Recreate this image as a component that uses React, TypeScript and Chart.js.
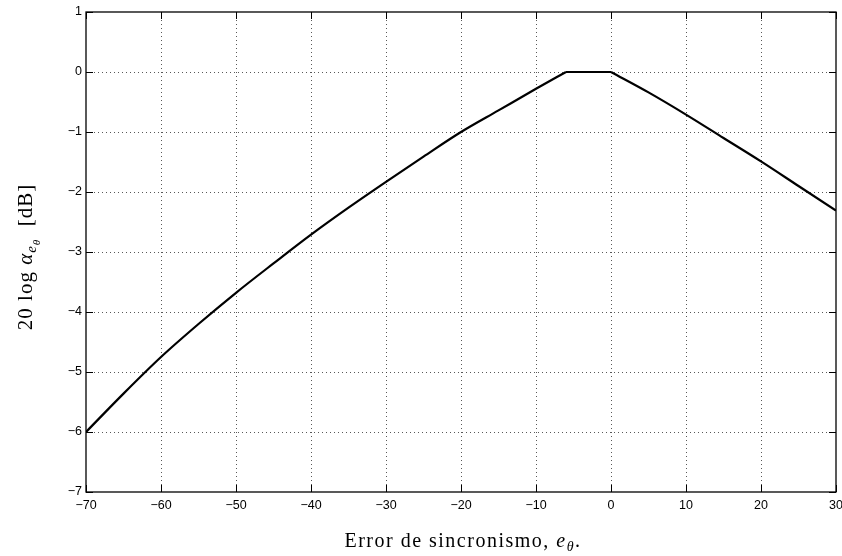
import React, { useEffect, useRef } from "react";
import { Chart, registerables } from "chart.js";

Chart.register(...registerables);

// Synchronisation error (x, degrees) and attenuation in dB (y)
const errorLeft = [-70, -65, -60, -55, -50, -45, -40, -35, -30, -25, -20, -15, -10, -6];
const gainLeft = [-6.0, -5.36, -4.75, -4.2, -3.68, -3.19, -2.71, -2.26, -1.83, -1.41, -1.0, -0.64, -0.28, 0];
const errorPlateau = [-6, 0];
const gainPlateau = [0, 0];
const errorRight = [0, 5, 10, 15, 20, 25, 30];
const gainRight = [0, -0.34, -0.71, -1.1, -1.49, -1.9, -2.31];

const xMin = -70;
const xMax = 30;
const xStep = 10;
const yMin = -7;
const yMax = 1;
const yStep = 1;

const xTitleParts = [
  { text: "Error de sincronismo, ", style: "normal", size: 20, dy: 0 },
  { text: "e", style: "italic", size: 20, dy: 0 },
  { text: "θ", style: "italic", size: 14, dy: 4 },
  { text: ".", style: "normal", size: 20, dy: 0 },
];
const yTitleParts = [
  { text: "20 log ", style: "normal", size: 21, dy: 0 },
  { text: "α", style: "italic", size: 21, dy: 0 },
  { text: "e", style: "italic", size: 15, dy: 4 },
  { text: "θ", style: "italic", size: 11, dy: 8 },
  { text: "  [dB]", style: "normal", size: 21, dy: 0 },
];

const SERIF = '"Liberation Serif", "DejaVu Serif", serif';
const SANS = '"Liberation Sans", Arial, Helvetica, sans-serif';

function drawRich(ctx: any, parts: any[], cx: number, baseline: number, spacing: number) {
  ctx.letterSpacing = `${spacing}px`;
  let total = 0;
  for (const p of parts) {
    ctx.font = `${p.style} ${p.size}px ${SERIF}`;
    total += ctx.measureText(p.text).width;
  }
  let x = cx - total / 2;
  ctx.textAlign = "left";
  ctx.textBaseline = "alphabetic";
  ctx.fillStyle = "#000";
  for (const p of parts) {
    ctx.font = `${p.style} ${p.size}px ${SERIF}`;
    ctx.fillText(p.text, x, baseline + p.dy);
    x += ctx.measureText(p.text).width;
  }
  ctx.letterSpacing = "0px";
}

const matlabPlugin = {
  id: "matlabFrame",
  beforeDatasetsDraw(chart: any) {
    const { ctx, chartArea: a, scales } = chart;
    ctx.save();
    ctx.strokeStyle = "rgba(60,60,60,0.85)";
    ctx.lineWidth = 1;
    ctx.setLineDash([1, 3]);
    for (const t of scales.x.ticks) {
      const px = Math.round(scales.x.getPixelForValue(t.value)) + 0.5;
      if (px <= a.left + 1 || px >= a.right - 1) continue;
      ctx.beginPath();
      ctx.moveTo(px, a.top);
      ctx.lineTo(px, a.bottom);
      ctx.stroke();
    }
    for (const t of scales.y.ticks) {
      const py = Math.round(scales.y.getPixelForValue(t.value)) + 0.5;
      if (py <= a.top + 1 || py >= a.bottom - 1) continue;
      ctx.beginPath();
      ctx.moveTo(a.left, py);
      ctx.lineTo(a.right, py);
      ctx.stroke();
    }
    ctx.restore();
  },
  afterDatasetsDraw(chart: any) {
    const { ctx, chartArea: a, scales } = chart;
    ctx.save();
    ctx.setLineDash([]);
    ctx.strokeStyle = "#000";
    ctx.lineWidth = 1.3;
    ctx.strokeRect(a.left, a.top, a.right - a.left, a.bottom - a.top);
    const len = 7;
    ctx.lineWidth = 1;
    for (const t of scales.x.ticks) {
      const px = Math.round(scales.x.getPixelForValue(t.value)) + 0.5;
      ctx.beginPath();
      ctx.moveTo(px, a.bottom);
      ctx.lineTo(px, a.bottom - len);
      ctx.moveTo(px, a.top);
      ctx.lineTo(px, a.top + len);
      ctx.stroke();
    }
    for (const t of scales.y.ticks) {
      const py = Math.round(scales.y.getPixelForValue(t.value)) + 0.5;
      ctx.beginPath();
      ctx.moveTo(a.left, py);
      ctx.lineTo(a.left + len, py);
      ctx.moveTo(a.right, py);
      ctx.lineTo(a.right - len, py);
      ctx.stroke();
    }
    ctx.restore();
  },
  afterDraw(chart: any) {
    const { ctx, chartArea: a } = chart;
    ctx.save();
    drawRich(ctx, xTitleParts, (a.left + a.right) / 2 + 2, 547, 1.5);
    ctx.translate(32, (a.top + a.bottom) / 2 + 5);
    ctx.rotate(-Math.PI / 2);
    drawRich(ctx, yTitleParts, 0, 0, 1);
    ctx.restore();
  },
};

const minusFmt = (v: any) => String(v).replace("-", "\u2212");

function lineSet(xs: number[], ys: number[]) {
  return {
    data: xs.map((x, i) => ({ x, y: ys[i] })),
    borderColor: "#000",
    borderWidth: 2.2,
    pointRadius: 0,
    cubicInterpolationMode: "monotone" as const,
    fill: false,
  };
}

export default function App() {
  const ref = useRef<HTMLCanvasElement | null>(null);
  useEffect(() => {
    if (!ref.current) return;
    const chart = new Chart(ref.current, {
      type: "line",
      data: {
        datasets: [
          lineSet(errorLeft, gainLeft),
          lineSet(errorPlateau, gainPlateau),
          lineSet(errorRight, gainRight),
        ],
      },
      options: {
        animation: false,
        responsive: false,
        devicePixelRatio: 1,
        layout: { padding: { left: 0, right: 6, top: 12, bottom: 0 } },
        plugins: { legend: { display: false }, tooltip: { enabled: false } },
        scales: {
          x: {
            type: "linear",
            min: xMin,
            max: xMax,
            grid: { display: false, drawTicks: false },
            border: { display: false },
            ticks: {
              stepSize: xStep,
              autoSkip: false,
              maxRotation: 0,
              padding: 6,
              color: "#000",
              font: { family: SANS, size: 12.5 },
              callback: minusFmt,
            },
            afterFit: (s: any) => {
              s.height = 64;
              s.paddingLeft = 0;
              s.paddingRight = 0;
            },
          },
          y: {
            type: "linear",
            min: yMin,
            max: yMax,
            grid: { display: false, drawTicks: false },
            border: { display: false },
            ticks: {
              stepSize: yStep,
              padding: 4,
              color: "#000",
              font: { family: SANS, size: 12.5 },
              callback: minusFmt,
            },
            afterFit: (s: any) => {
              s.width = 86;
              s.paddingTop = 0;
              s.paddingBottom = 0;
            },
          },
        },
      },
      plugins: [matlabPlugin],
    });
    return () => chart.destroy();
  }, []);
  return (
    <div style={{ position: "absolute", left: 0, top: 0, width: 842, height: 556, background: "#fff" }}>
      <canvas ref={ref} width={842} height={556} style={{ display: "block" }} />
    </div>
  );
}
